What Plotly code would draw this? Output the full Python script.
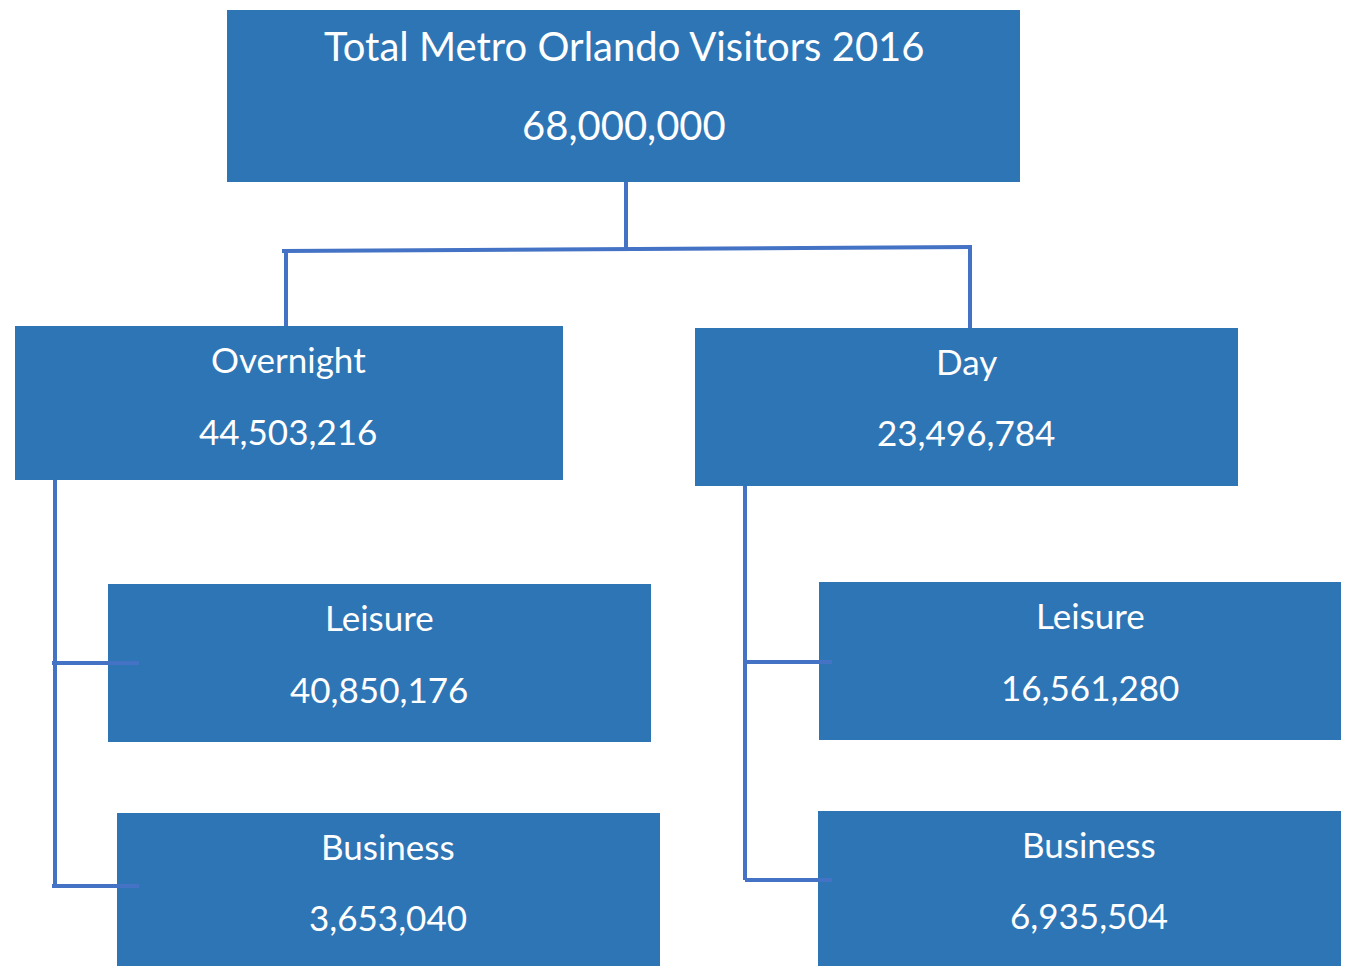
import plotly.graph_objects as go

# ---- data ----
labels = ["Total Metro Orlando Visitors 2016", "Overnight", "Day",
          "Leisure", "Business", "Leisure", "Business"]
values = [68000000, 44503216, 23496784, 40850176, 3653040, 16561280, 6935504]

# ---- layout of the boxes (page pixel coordinates) ----
box_x0 = [227, 15, 695, 108, 117, 819, 818]
box_x1 = [1020, 563, 1238, 651, 660, 1380, 1380]
box_y0 = [10, 326, 328, 584, 813, 582, 811]
box_y1 = [182, 480, 486, 742, 990, 740, 990]
lab_y = [46, 359, 361, 617, 846, 615, 844]
val_y = [125, 431, 432, 689, 917, 687, 915]
txt_x = [624, 288, 966, 379, 388, 1090, 1089]
font_sz = [40, 35, 35, 35, 35, 35, 35]

# connector polylines
connectors = [
    [(626, 182), (626, 249)],
    [(282, 251), (972, 247)],
    [(286, 251), (286, 326)],
    [(970, 247), (970, 328)],
    [(55, 480), (55, 886)],
    [(52, 663), (139, 663)],
    [(52, 886), (139, 886)],
    [(745, 486), (745, 880)],
    [(745, 662), (832, 662)],
    [(745, 880), (832, 880)],
]

BOX = "#2E75B6"
LINE = "#4472C4"
FONT = "Lato"

# The figure is drawn inside the page body (8px margin), so map the axes
# such that data coordinates equal page pixels.
OFF = 8
X_END, Y_END = 1341, 966

fig = go.Figure()
fig.add_trace(go.Scatter(x=[OFF, X_END], y=[OFF, Y_END], mode="markers",
                         marker=dict(opacity=0), hoverinfo="skip",
                         showlegend=False))

shapes = []
for x0, x1, y0, y1 in zip(box_x0, box_x1, box_y0, box_y1):
    shapes.append(dict(type="rect", xref="x", yref="y", x0=x0, x1=x1,
                       y0=y0, y1=y1, fillcolor=BOX, line=dict(width=0),
                       layer="above"))
for seg in connectors:
    (xa, ya), (xb, yb) = seg
    shapes.append(dict(type="line", xref="x", yref="y", x0=xa, y0=ya,
                       x1=xb, y1=yb, line=dict(color=LINE, width=4),
                       layer="above"))

annotations = []
for lab, val, x, ly, vy, fs in zip(labels, values, txt_x, lab_y, val_y, font_sz):
    annotations.append(dict(x=x, y=ly, xref="x", yref="y", text=lab,
                            showarrow=False, xanchor="center", yanchor="middle",
                            font=dict(family=FONT, size=fs, color="white")))
    annotations.append(dict(x=x, y=vy, xref="x", yref="y", text=f"{val:,}",
                            showarrow=False, xanchor="center", yanchor="middle",
                            font=dict(family=FONT, size=fs, color="white")))

fig.update_layout(
    width=X_END - OFF, height=Y_END - OFF,
    margin=dict(l=0, r=0, t=0, b=0),
    paper_bgcolor="white", plot_bgcolor="white",
    xaxis=dict(range=[OFF, X_END], visible=False, fixedrange=True),
    yaxis=dict(range=[Y_END, OFF], visible=False, fixedrange=True),
    shapes=shapes, annotations=annotations, showlegend=False,
)

fig.write_html("out.html", config={"displayModeBar": False})
